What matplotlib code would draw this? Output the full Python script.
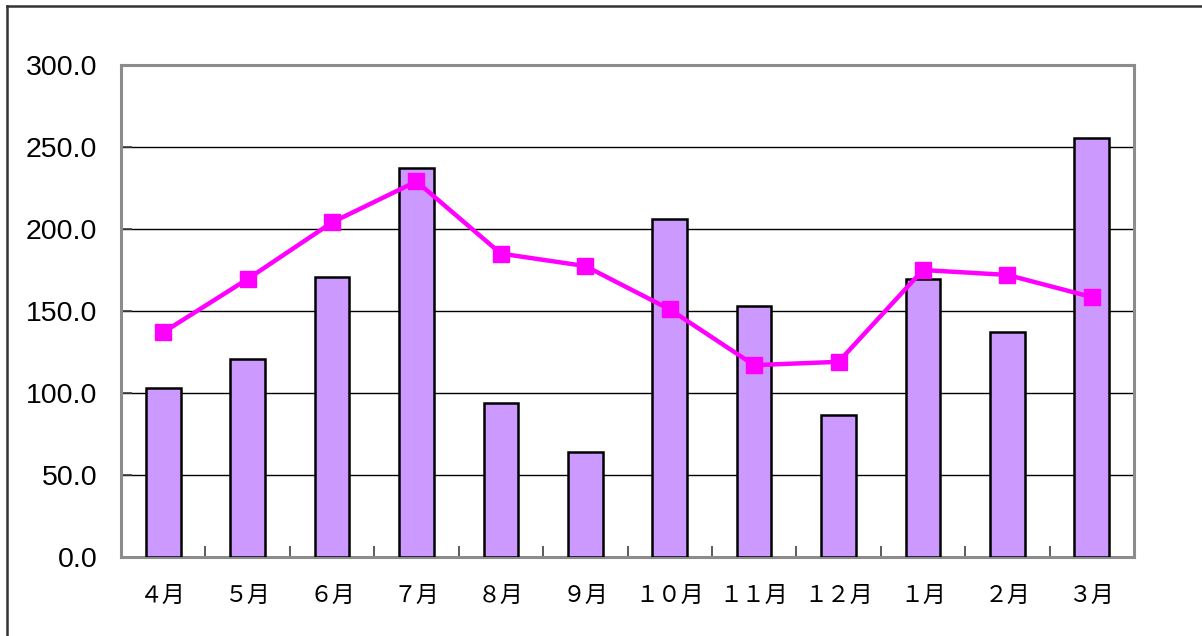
import matplotlib
matplotlib.use("Agg")
import matplotlib.pyplot as plt
from matplotlib.lines import Line2D
import numpy as np

months = ["４月", "５月", "６月", "７月", "８月", "９月", "１０月", "１１月", "１２月", "１月", "２月", "３月"]
bar_values = [103.0, 120.7, 170.7, 237.2, 93.9, 64.0, 206.0, 153.0, 86.6, 169.5, 137.2, 255.7]
line_values = [137.0, 169.5, 204.0, 229.0, 185.0, 177.4, 151.0, 117.0, 119.0, 175.0, 172.0, 158.5]
y_ticks = [0, 50, 100, 150, 200, 250, 300]

W, H = 1202, 636
fig = plt.figure(figsize=(W / 100, H / 100), dpi=100)
ax = fig.add_axes([121 / W, 1 - 557 / H, (1134 - 121) / W, (557 - 65) / H])

x = np.arange(len(months))
ax.bar(x, bar_values, width=0.41, color="#CC99FF", edgecolor="black", linewidth=1.8, zorder=3)
ax.plot(x, line_values, color="#FF00FF", linewidth=3.2, marker="s", markersize=11,
        markerfacecolor="#FF00FF", markeredgecolor="#FF00FF", zorder=4)

ax.set_xlim(-0.5, len(months) - 0.5)
ax.set_ylim(0, 300)
ax.set_yticks(y_ticks)
ax.set_yticklabels([f"{v:.1f}" for v in y_ticks], fontsize=20.5, family="Liberation Sans")
ax.yaxis.grid(True, color="black", linewidth=1.0, zorder=0)
ax.set_axisbelow(True)

ax.set_xticks(x)
ax.set_xticklabels(months, family=["Noto Sans CJK JP", "DejaVu Sans"], fontsize=16.5)
ax.tick_params(axis="x", which="major", length=0, pad=19)
ax.set_xticks(np.arange(0.5, len(months) - 0.5, 1), minor=True)
ax.tick_params(axis="x", which="minor", direction="in", length=8, width=1.2, color="#404040")
ax.tick_params(axis="y", direction="in", length=8, width=1.2, color="#404040", pad=17)

for s in ax.spines.values():
    s.set_color("#8c8c8c")
    s.set_linewidth(2.2)

# outer border (left and top only)
fig.add_artist(Line2D([7 / W, 7 / W], [0, 1 - 6 / H], color="#333333", linewidth=1.8))
fig.add_artist(Line2D([7 / W, 1], [1 - 6 / H, 1 - 6 / H], color="#333333", linewidth=1.8))

fig.savefig("out.png", dpi=100)
